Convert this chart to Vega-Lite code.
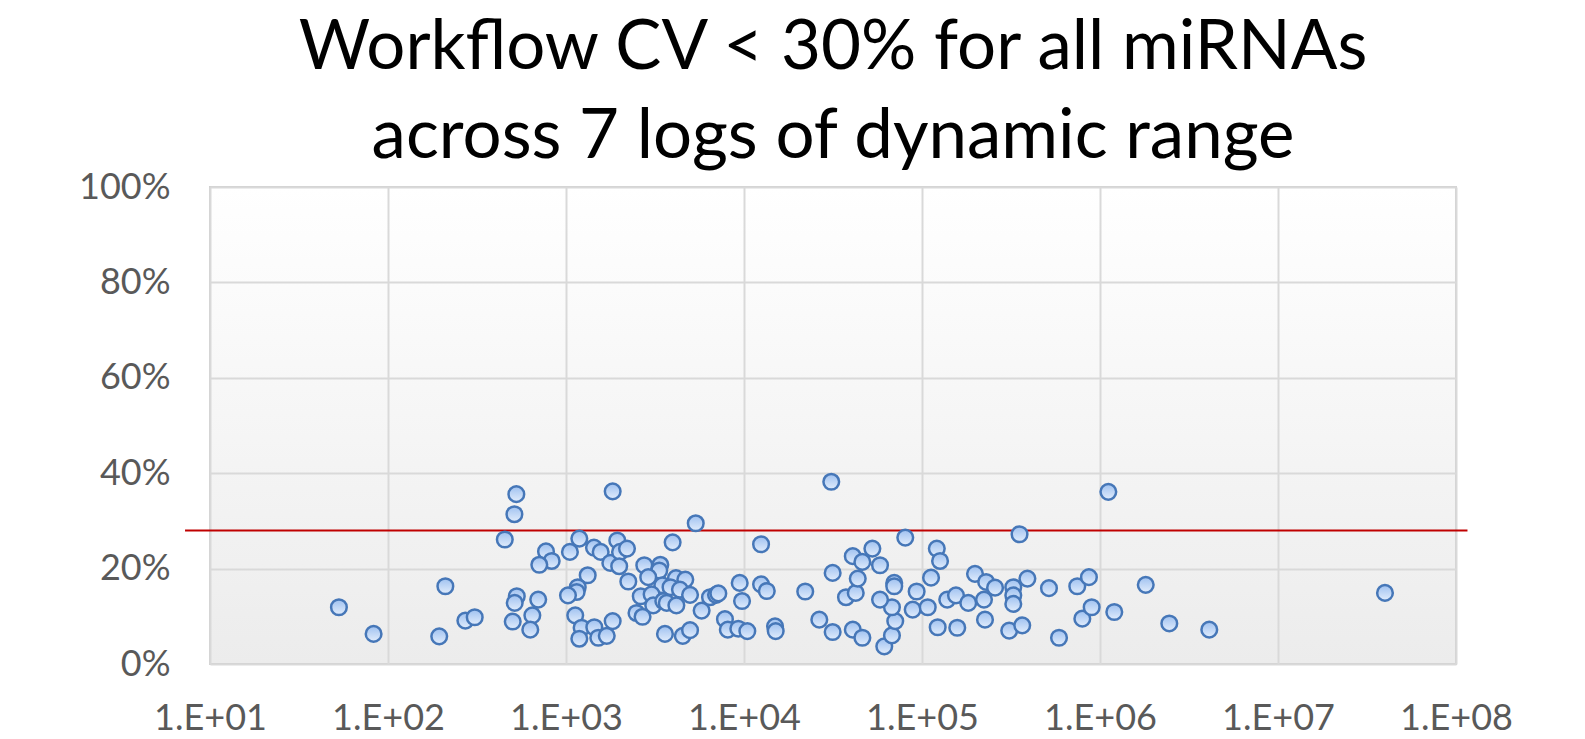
{
  "$schema": "https://vega.github.io/schema/vega-lite/v6.json",
  "autosize": {"type": "none"},
  "width": 1246,
  "height": 477,
  "padding": {"left": 210, "top": 187, "right": 129, "bottom": 75},
  "background": "#ffffff",
  "config": {
    "font": "Lato",
    "view": {
      "stroke": "#d0d0d0",
      "strokeWidth": 2,
      "fill": {"gradient": "linear", "x1": 0, "y1": 0, "x2": 0, "y2": 1,
        "stops": [{"offset": 0, "color": "#ffffff"}, {"offset": 1, "color": "#ececec"}]}
    }
  },
  "title": {
    "text": ["Workflow CV < 30% for all miRNAs", "across 7 logs of dynamic range"],
    "font": "Lato",
    "fontSize": 69,
    "fontWeight": "normal",
    "color": "#000000",
    "lineHeight": 89,
    "baseline": "bottom",
    "offset": 12,
    "dy": 84,
    "anchor": "middle"
  },
  "datasets": {
    "pts": [
      {"signal": 53, "cv": 0.119}, {"signal": 83, "cv": 0.063}, {"signal": 194, "cv": 0.058},
      {"signal": 210, "cv": 0.163}, {"signal": 272, "cv": 0.091}, {"signal": 307, "cv": 0.098},
      {"signal": 526, "cv": 0.356}, {"signal": 513, "cv": 0.314}, {"signal": 453, "cv": 0.261},
      {"signal": 529, "cv": 0.142}, {"signal": 515, "cv": 0.128}, {"signal": 502, "cv": 0.089},
      {"signal": 647, "cv": 0.102}, {"signal": 630, "cv": 0.072}, {"signal": 698, "cv": 0.135},
      {"signal": 772, "cv": 0.236}, {"signal": 831, "cv": 0.216}, {"signal": 708, "cv": 0.208},
      {"signal": 1052, "cv": 0.235}, {"signal": 1188, "cv": 0.263}, {"signal": 1436, "cv": 0.244},
      {"signal": 1566, "cv": 0.235}, {"signal": 1324, "cv": 0.186}, {"signal": 1164, "cv": 0.161},
      {"signal": 1148, "cv": 0.151}, {"signal": 1026, "cv": 0.144}, {"signal": 1127, "cv": 0.102},
      {"signal": 1224, "cv": 0.076}, {"signal": 1442, "cv": 0.077}, {"signal": 1188, "cv": 0.053},
      {"signal": 1518, "cv": 0.055}, {"signal": 1694, "cv": 0.059}, {"signal": 1829, "cv": 0.362},
      {"signal": 1774, "cv": 0.212}, {"signal": 1829, "cv": 0.090}, {"signal": 1941, "cv": 0.259},
      {"signal": 2011, "cv": 0.235}, {"signal": 2201, "cv": 0.242}, {"signal": 1990, "cv": 0.205},
      {"signal": 2239, "cv": 0.173}, {"signal": 2753, "cv": 0.207}, {"signal": 3388, "cv": 0.208},
      {"signal": 3342, "cv": 0.196}, {"signal": 2897, "cv": 0.182}, {"signal": 4149, "cv": 0.180},
      {"signal": 4680, "cv": 0.177}, {"signal": 3475, "cv": 0.165}, {"signal": 3865, "cv": 0.161},
      {"signal": 4366, "cv": 0.156}, {"signal": 4977, "cv": 0.145}, {"signal": 2630, "cv": 0.142},
      {"signal": 3027, "cv": 0.146}, {"signal": 3090, "cv": 0.123}, {"signal": 3521, "cv": 0.132},
      {"signal": 3681, "cv": 0.128}, {"signal": 4169, "cv": 0.123}, {"signal": 5781, "cv": 0.112},
      {"signal": 6441, "cv": 0.140}, {"signal": 6963, "cv": 0.145}, {"signal": 7175, "cv": 0.148},
      {"signal": 2489, "cv": 0.107}, {"signal": 2692, "cv": 0.099}, {"signal": 3597, "cv": 0.063},
      {"signal": 4529, "cv": 0.059}, {"signal": 4977, "cv": 0.071}, {"signal": 7816, "cv": 0.094},
      {"signal": 8110, "cv": 0.072}, {"signal": 9290, "cv": 0.074}, {"signal": 10440, "cv": 0.069},
      {"signal": 9460, "cv": 0.170}, {"signal": 9750, "cv": 0.132}, {"signal": 3972, "cv": 0.255},
      {"signal": 5357, "cv": 0.295}, {"signal": 12470, "cv": 0.251}, {"signal": 12470, "cv": 0.167},
      {"signal": 13430, "cv": 0.153}, {"signal": 14940, "cv": 0.079}, {"signal": 15070, "cv": 0.069},
      {"signal": 22080, "cv": 0.152}, {"signal": 26490, "cv": 0.093}, {"signal": 31480, "cv": 0.067},
      {"signal": 30920, "cv": 0.382}, {"signal": 31480, "cv": 0.191}, {"signal": 37410, "cv": 0.140},
      {"signal": 42440, "cv": 0.149}, {"signal": 43560, "cv": 0.179}, {"signal": 40850, "cv": 0.226},
      {"signal": 46230, "cv": 0.214}, {"signal": 52620, "cv": 0.242}, {"signal": 58100, "cv": 0.207},
      {"signal": 40850, "cv": 0.072}, {"signal": 46230, "cv": 0.055}, {"signal": 61380, "cv": 0.037},
      {"signal": 67790, "cv": 0.060}, {"signal": 70750, "cv": 0.090}, {"signal": 67790, "cv": 0.119},
      {"signal": 58100, "cv": 0.135}, {"signal": 69830, "cv": 0.170}, {"signal": 69830, "cv": 0.163},
      {"signal": 80540, "cv": 0.265}, {"signal": 93300, "cv": 0.152}, {"signal": 88650, "cv": 0.114},
      {"signal": 107700, "cv": 0.119}, {"signal": 112400, "cv": 0.181}, {"signal": 121100, "cv": 0.242},
      {"signal": 126300, "cv": 0.216}, {"signal": 122500, "cv": 0.077}, {"signal": 138600, "cv": 0.135},
      {"signal": 155200, "cv": 0.144}, {"signal": 157800, "cv": 0.076}, {"signal": 181900, "cv": 0.128},
      {"signal": 198500, "cv": 0.189}, {"signal": 229300, "cv": 0.172}, {"signal": 257300, "cv": 0.160},
      {"signal": 223000, "cv": 0.135}, {"signal": 225900, "cv": 0.093}, {"signal": 309000, "cv": 0.070},
      {"signal": 325700, "cv": 0.161}, {"signal": 325700, "cv": 0.144}, {"signal": 325700, "cv": 0.126},
      {"signal": 353200, "cv": 0.272}, {"signal": 365700, "cv": 0.081}, {"signal": 391000, "cv": 0.179},
      {"signal": 516800, "cv": 0.159}, {"signal": 588500, "cv": 0.055}, {"signal": 745200, "cv": 0.163},
      {"signal": 866600, "cv": 0.182}, {"signal": 795600, "cv": 0.095}, {"signal": 897800, "cv": 0.119},
      {"signal": 1114000, "cv": 0.361}, {"signal": 1203000, "cv": 0.109}, {"signal": 1807000, "cv": 0.166},
      {"signal": 2451000, "cv": 0.085}, {"signal": 4111000, "cv": 0.072}, {"signal": 39900000, "cv": 0.149}
    ],
    "threshold": [{"xs": 7.24, "xe": 116000000, "cv": 0.28}]
  },
  "layer": [
    {
      "data": {"name": "threshold"},
      "mark": {"type": "rule", "color": "#c00000", "strokeWidth": 2},
      "encoding": {
        "x": {"field": "xs", "type": "quantitative", "scale": {"type": "log", "domain": [10, 100000000], "nice": false}},
        "x2": {"field": "xe"},
        "y": {"field": "cv", "type": "quantitative", "scale": {"domain": [0, 1], "nice": false}}
      }
    },
    {
      "data": {"name": "pts"},
      "mark": {
        "type": "point",
        "shape": "circle",
        "filled": true,
        "size": 245,
        "opacity": 1,
        "stroke": "#4677b8",
        "strokeWidth": 2.5,
        "fill": {"gradient": "linear", "x1": 0, "y1": 0, "x2": 0, "y2": 1,
          "stops": [{"offset": 0, "color": "#9fc1f0"}, {"offset": 1, "color": "#e2edfc"}]}
      },
      "encoding": {
        "x": {
          "field": "signal", "type": "quantitative",
          "scale": {"type": "log", "domain": [10, 100000000], "nice": false},
          "axis": {
            "title": null,
            "values": [10, 100, 1000, 10000, 100000, 1000000, 10000000, 100000000],
            "labelExpr": "'1.E+' + (round(log(datum.value)/LN10) < 10 ? '0' : '') + round(log(datum.value)/LN10)",
            "labelFontSize": 36,
            "labelColor": "#595959",
            "labelPadding": 37,
            "labelBaseline": "top",
            "ticks": false,
            "domain": false,
            "grid": true,
            "gridColor": "#d9d9d9",
            "gridWidth": 2,
            "labelFlush": false,
            "labelOverlap": false
          }
        },
        "y": {
          "field": "cv", "type": "quantitative",
          "scale": {"domain": [0, 1], "nice": false},
          "axis": {
            "title": null,
            "values": [0, 0.2, 0.4, 0.6, 0.8, 1],
            "format": ".0%",
            "labelFontSize": 36,
            "labelColor": "#595959",
            "labelPadding": 40,
            "ticks": false,
            "domain": false,
            "grid": true,
            "gridColor": "#d9d9d9",
            "gridWidth": 2,
            "labelFlush": false,
            "labelOverlap": false
          }
        }
      }
    }
  ]
}
